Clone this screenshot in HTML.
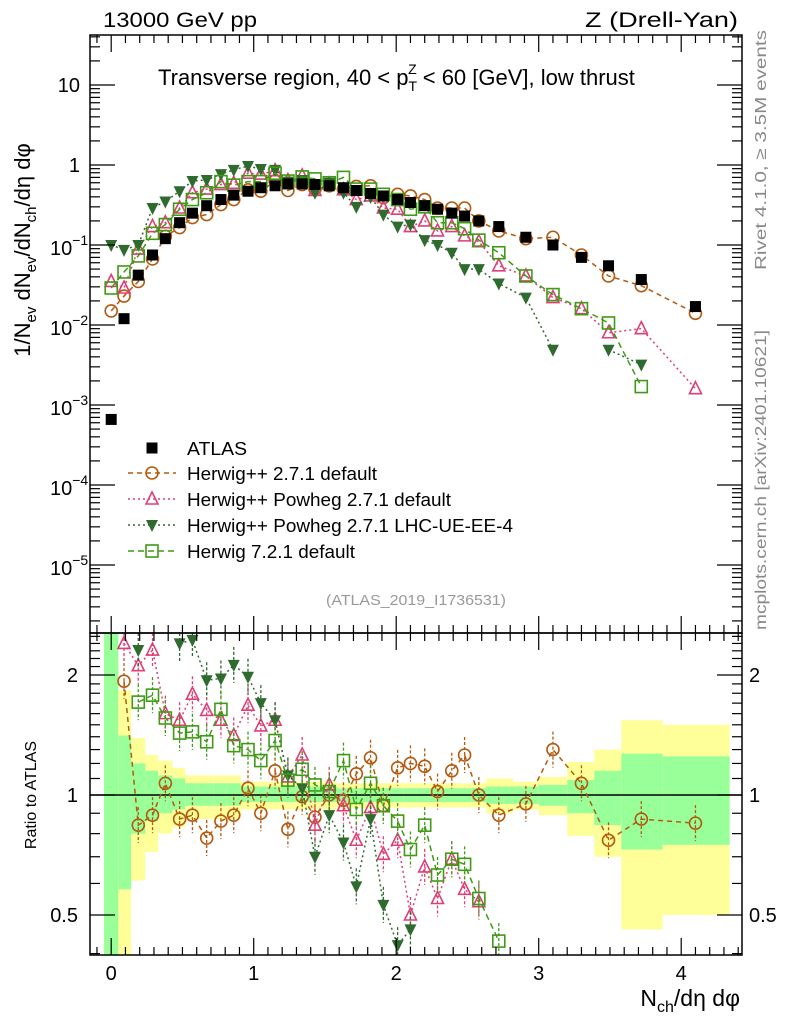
<!DOCTYPE html>
<html><head><meta charset="utf-8"><style>
html,body{margin:0;padding:0;background:#fff;}
svg{display:block;font-family:"Liberation Sans",sans-serif;}
</style></head><body>
<svg id="chart" width="786" height="1024" viewBox="0 0 786 1024" xmlns="http://www.w3.org/2000/svg">
<g id="bands"></g>
<g id="marks"></g>
<g id="axes"></g>
<text x="103" y="27" font-size="21" textLength="154" lengthAdjust="spacingAndGlyphs">13000 GeV pp</text>
<text x="585" y="27" font-size="21" textLength="153" lengthAdjust="spacingAndGlyphs">Z (Drell-Yan)</text>
<text x="158" y="85" font-size="22">Transverse region, 40 &lt; p<tspan font-size="14" dy="6">T</tspan><tspan font-size="14" dx="-9" dy="-17">Z</tspan><tspan dy="11"> &lt; 60 [GeV], low thrust</tspan></text>
<text transform="translate(30,250) rotate(-90)" font-size="22" text-anchor="middle">1/N<tspan font-size="15" dy="6">ev</tspan><tspan dy="-6"> dN</tspan><tspan font-size="15" dy="6">ev</tspan><tspan dy="-6">/dN</tspan><tspan font-size="15" dy="6">ch</tspan><tspan dy="-6">/dη dφ</tspan></text>
<text transform="translate(766,270) rotate(-90)" font-size="16" fill="#888" textLength="240" lengthAdjust="spacingAndGlyphs">Rivet 4.1.0, ≥ 3.5M events</text>
<text transform="translate(766,630) rotate(-90)" font-size="16" fill="#888" textLength="300" lengthAdjust="spacingAndGlyphs">mcplots.cern.ch [arXiv:2401.10621]</text>
<text x="326" y="605" font-size="15" fill="#999" textLength="180" lengthAdjust="spacingAndGlyphs">(ATLAS_2019_I1736531)</text>
<text transform="translate(36,795) rotate(-90)" font-size="16" text-anchor="middle">Ratio to ATLAS</text>
<text x="740" y="1006" font-size="23" text-anchor="end">N<tspan font-size="16" dy="6">ch</tspan><tspan dy="-6">/dη dφ</tspan></text>
<g id="legend"></g>
</svg>
<script>
// ---- data ----
const xVals = [0,0.09,0.19,0.29,0.38,0.48,0.57,0.67,0.77,0.86,0.96,1.05,1.15,1.24,1.34,1.43,1.53,1.63,1.72,1.82,1.91,2.01,2.10,2.20,2.29,2.39,2.48,2.58,2.72,2.91,3.10,3.30,3.49,3.72,4.10];
const binLo = [-0.05,0.05,0.14,0.24,0.33,0.43,0.52,0.62,0.72,0.81,0.91,1.0,1.1,1.19,1.29,1.38,1.48,1.58,1.67,1.77,1.86,1.96,2.05,2.15,2.24,2.34,2.43,2.53,2.63,2.82,3.0,3.2,3.39,3.58,3.87];
const binHi = [0.05,0.14,0.24,0.33,0.43,0.52,0.62,0.72,0.81,0.91,1.0,1.1,1.19,1.29,1.38,1.48,1.58,1.67,1.77,1.86,1.96,2.05,2.15,2.24,2.34,2.43,2.53,2.63,2.82,3.0,3.2,3.39,3.58,3.87,4.34];
const atlas = [6.6e-4,0.012,0.042,0.075,0.12,0.19,0.25,0.31,0.37,0.42,0.47,0.52,0.55,0.58,0.58,0.57,0.55,0.52,0.48,0.44,0.41,0.37,0.34,0.31,0.28,0.25,0.23,0.2,0.17,0.125,0.1,0.07,0.055,0.037,0.017];
const hwpp = [0.015,0.023,0.035,0.067,0.128,0.165,0.22,0.24,0.32,0.37,0.49,0.47,0.63,0.48,0.57,0.5,0.55,0.5,0.54,0.55,0.39,0.43,0.41,0.37,0.29,0.29,0.29,0.2,0.15,0.12,0.125,0.075,0.041,0.031,0.014];
const powheg = [0.035,0.029,0.089,0.17,0.19,0.29,0.45,0.5,0.57,0.59,0.79,0.77,0.85,0.64,0.73,0.48,0.58,0.49,0.37,0.41,0.29,0.28,0.17,0.2,0.15,0.17,0.13,0.11,0.055,0.041,0.022,0.016,0.008,0.009,0.0016];
const powhegUE = [0.1,0.087,0.1,0.29,0.35,0.47,0.63,0.65,0.77,0.87,0.97,0.89,0.87,0.62,0.65,0.45,0.6,0.45,0.3,0.4,0.24,0.17,0.18,0.115,0.1,0.08,0.05,0.05,0.033,0.022,0.0049,null,0.0049,0.0032,null];
const hw7 = [0.029,0.046,0.073,0.14,0.18,0.28,0.37,0.45,0.62,0.56,0.62,0.62,0.79,0.63,0.71,0.67,0.6,0.7,0.5,0.5,0.43,0.37,0.28,0.3,0.19,0.19,0.16,0.115,0.08,0.041,0.024,0.016,0.0106,0.0017,null];
// ratio values
const rHwpp = [null,1.93,0.84,0.89,1.07,0.87,0.89,0.78,0.86,0.89,1.04,0.9,1.15,0.82,0.99,0.88,1.0,0.97,1.13,1.24,0.94,1.17,1.2,1.18,1.02,1.15,1.26,1.0,0.89,0.95,1.3,1.07,0.77,0.87,0.85];
const rPowheg = [null,2.4,2.11,2.31,1.6,1.54,1.79,1.63,1.54,1.41,1.68,1.49,1.54,1.11,1.26,0.84,1.06,0.94,0.77,0.93,0.71,0.77,0.5,0.66,0.55,0.69,0.58,0.54,null,null,null,null,null,null,null];
const rPowhegUE = [null,null,2.31,null,null,2.4,2.45,1.94,1.96,2.12,1.98,1.7,1.54,1.12,1.04,0.7,0.89,0.76,0.59,0.87,0.53,0.42,0.46,null,null,null,null,null,null,null,null,null,null,null,null];
const rHw7 = [null,null,1.71,1.78,1.56,1.43,1.44,1.36,1.64,1.33,1.3,1.22,1.37,1.09,1.16,1.06,1.02,1.22,0.92,1.07,0.94,0.86,0.73,0.84,0.63,0.69,0.67,0.55,0.43,null,null,null,null,null,null];
const greenLo = [0.3,0.58,0.8,0.86,0.9,0.92,0.94,0.94,0.94,0.94,0.96,0.96,0.96,0.96,0.96,0.96,0.96,0.96,0.96,0.96,0.96,0.96,0.96,0.96,0.96,0.96,0.96,0.96,0.95,0.95,0.94,0.9,0.84,0.73,0.75];
const greenHi = [3,1.41,1.2,1.15,1.12,1.1,1.07,1.07,1.07,1.07,1.05,1.05,1.05,1.05,1.05,1.05,1.05,1.04,1.04,1.04,1.04,1.04,1.04,1.04,1.04,1.04,1.04,1.04,1.05,1.05,1.06,1.09,1.15,1.27,1.25];
const yellowLo = [0.3,0.3,0.61,0.72,0.8,0.83,0.87,0.87,0.87,0.87,0.92,0.92,0.92,0.92,0.92,0.92,0.92,0.93,0.93,0.93,0.93,0.93,0.93,0.93,0.93,0.93,0.93,0.93,0.9,0.92,0.89,0.79,0.7,0.46,0.5];
const yellowHi = [3,1.83,1.39,1.26,1.22,1.17,1.12,1.12,1.12,1.12,1.08,1.08,1.08,1.08,1.08,1.08,1.08,1.07,1.07,1.07,1.07,1.07,1.07,1.07,1.07,1.07,1.07,1.07,1.1,1.08,1.11,1.21,1.3,1.54,1.5];
const xTicks = [0,1,2,3,4];
const mainTickExp = [1,0,-1,-2,-3,-4,-5];
const ratioTicks = [2,1,0.5];

// ---- geometry ----
const L=90,R=742,T=35,MB=633,RB=955;
const X=v=>111.2+v*142.5;
const YM=v=>165-80*Math.log10(v);
const YR=v=>795-120*Math.log2(v);
const NS="http://www.w3.org/2000/svg";
function mk(tag,attrs,parent){const e=document.createElementNS(NS,tag);for(const k in attrs)e.setAttribute(k,attrs[k]);parent.appendChild(e);return e;}
const bands=document.getElementById('bands'),marks=document.getElementById('marks'),axes=document.getElementById('axes'),legend=document.getElementById('legend');

// bands
for(let i=0;i<xVals.length;i++){
  const x0=Math.max(X(binLo[i]),L+1),x1=X(binHi[i]);
  const yt=Math.max(YR(yellowHi[i]),MB),yb=Math.min(YR(yellowLo[i]),RB);
  const y=mk('rect',{x:x0,y:yt,width:x1-x0,height:yb-yt,fill:'#ffff99'},bands);
  
  
  const gt=Math.max(YR(greenHi[i]),MB),gb=Math.min(YR(greenLo[i]),RB);
  const g=mk('rect',{x:x0,y:gt,width:x1-x0,height:gb-gt,fill:'#99ff99'},bands);
  
  
}
const one=mk('line',{x1:L,x2:R,y1:YR(1),y2:YR(1),stroke:'#000','stroke-width':1.5},bands);



// markers
function marker(type,cx,cy,color,parent,size){
  const s=size||6;let e;
  if(type==='sq') e=mk('rect',{x:cx-s,y:cy-s,width:2*s,height:2*s,fill:'#000'},parent);
  else if(type==='circ') e=mk('circle',{cx:cx,cy:cy,r:s,fill:'none',stroke:color,'stroke-width':1.6},parent);
  else if(type==='tri') e=mk('path',{d:`M${cx},${cy-s-1}L${cx+s},${cy+s-1}L${cx-s},${cy+s-1}Z`,fill:'none',stroke:color,'stroke-width':1.6},parent);
  else if(type==='dtri') e=mk('path',{d:`M${cx-s},${cy-s+1}L${cx+s},${cy-s+1}L${cx},${cy+s+1}Z`,fill:color},parent);
  else e=mk('rect',{x:cx-s,y:cy-s,width:2*s,height:2*s,fill:'none',stroke:color,'stroke-width':1.6},parent);
  return e;
}
const series=[
 {name:'herwigpp-default',main:hwpp,ratio:rHwpp,color:'#b35a10',type:'circ',dash:'5,4'},
 {name:'herwigpp-powheg-default',main:powheg,ratio:rPowheg,color:'#dd3f76',type:'tri',dash:'2,3'},
 {name:'herwigpp-powheg-lhc-ue',main:powhegUE,ratio:rPowhegUE,color:'#2f6b2f',type:'dtri',dash:'2,3'},
 {name:'herwig7-default',main:hw7,ratio:rHw7,color:'#3f9a16',type:'box',dash:'6,4'}
];
function drawSeries(vals,yf,top,bot,s,panel){
  const g=mk('g',{},marks);
  
  
  let pts=[];
  const flush=()=>{if(pts.length>1)mk('polyline',{points:pts.join(' '),fill:'none',stroke:s.color,'stroke-width':1.5,'stroke-dasharray':s.dash},g);pts=[];};
  for(let i=0;i<xVals.length;i++){
    const v=vals[i];if(v==null){flush();continue;}
    const y=yf(v);
    if(y<top-40||y>bot+40){flush();continue;}
    pts.push(X(xVals[i])+','+y);
  }
  flush();
  for(let i=0;i<xVals.length;i++){
    const v=vals[i];if(v==null)continue;const y=yf(v);
    if(y<top||y>bot)continue;
    if(panel==='ratio'){
      const e=mk('line',{x1:X(xVals[i]),x2:X(xVals[i]),y1:Math.max(y-18,top),y2:Math.min(y+18,bot),stroke:s.color,'stroke-width':1.3,'stroke-dasharray':'3,2'},g);
      
      
    }
    const m=marker(s.type,X(xVals[i]),y,s.color,g);
    
    
  }
}
series.forEach(s=>drawSeries(s.main,YM,T,MB,s,'main'));
series.forEach(s=>drawSeries(s.ratio,YR,MB,RB,s,'ratio'));
// mask overflow of ratio lines above/below panels
const m1=mk('rect',{x:L,y:RB+1,width:R-L+2,height:30,fill:'#fff'},marks);


const ag=mk('g',{},marks);


for(let i=0;i<xVals.length;i++){
  const m=marker('sq',X(xVals[i]),YM(atlas[i]),'#000',ag,5.5);
  
  
}

// axes frames
[[T,MB],[MB,RB]].forEach(([a,b])=>{
  const f=mk('rect',{x:L,y:a,width:R-L,height:b-a,fill:'none',stroke:'#000','stroke-width':1.5},axes);
  
  
});
// x ticks
for(let v=-0.1;v<=4.45;v+=0.1){
  const vv=Math.round(v*10)/10;const x=X(vv);if(x<L||x>R)continue;
  const major=Math.abs(vv-Math.round(vv))<1e-6;const len=major?17:8;
  [[T,1],[MB,-1],[MB,1],[RB,-1]].forEach(([y,d])=>mk('line',{x1:x,x2:x,y1:y,y2:y+d*len,stroke:'#000','stroke-width':1.2},axes));
}
xTicks.forEach(v=>{
  const t=mk('text',{x:X(v),y:980,'font-size':20,'text-anchor':'middle'},axes);t.textContent=v;
  
  
});
// main y ticks
for(let e=-6;e<=1;e++){
  for(let k=1;k<10;k++){
    const y=YM(k*Math.pow(10,e));if(y<T||y>MB)continue;
    const len=k===1?25:10;
    mk('line',{x1:L,x2:L+len,y1:y,y2:y,stroke:'#000','stroke-width':1.2},axes);
    mk('line',{x1:R,x2:R-len,y1:y,y2:y,stroke:'#000','stroke-width':1.2},axes);
  }
}
mainTickExp.forEach(e=>{
  const y=YM(Math.pow(10,e));
  const t=mk('text',{'font-size':20},axes);
  
  
  if(e>=0){t.setAttribute('x',80);t.setAttribute('y',y+7);t.setAttribute('text-anchor','end');t.textContent=(e===1?'10':'1');}
  else{
    t.setAttribute('x',50);t.setAttribute('y',y+10);
    const a=document.createElementNS(NS,'tspan');a.textContent='10';t.appendChild(a);
    const s=document.createElementNS(NS,'tspan');s.setAttribute('font-size','14');s.setAttribute('dy','-10');s.textContent='−'+(-e);t.appendChild(s);
  }
});
// ratio y ticks
for(let v=0.4;v<=2.55;v+=0.1){
  const vv=Math.round(v*10)/10;const y=YR(vv);if(y<MB||y>RB)continue;
  const len=(vv===0.5||vv===1||vv===2)?25:10;
  mk('line',{x1:L,x2:L+len,y1:y,y2:y,stroke:'#000','stroke-width':1.2},axes);
  mk('line',{x1:R,x2:R-len,y1:y,y2:y,stroke:'#000','stroke-width':1.2},axes);
}
ratioTicks.forEach(v=>{
  const y=YR(v);
  const t=mk('text',{x:78,y:y+7,'font-size':20,'text-anchor':'end'},axes);t.textContent=v;
  
  
  const t2=mk('text',{x:749,y:y+7,'font-size':20},axes);t2.textContent=v;
  
  
});

// legend
const legItems=[
 {label:'ATLAS',type:'sq',color:'#000',dash:null,w:60},
 {label:'Herwig++ 2.7.1 default',type:'circ',color:series[0].color,dash:'5,4',w:190},
 {label:'Herwig++ Powheg 2.7.1 default',type:'tri',color:series[1].color,dash:'2,3',w:264},
 {label:'Herwig++ Powheg 2.7.1 LHC-UE-EE-4',type:'dtri',color:series[2].color,dash:'2,3',w:326},
 {label:'Herwig 7.2.1 default',type:'box',color:series[3].color,dash:'6,4',w:168}
];
const legY=[448,473,499,525,551];
legItems.forEach((it,i)=>{
  const g=mk('g',{},legend);
  
  
  const y=legY[i];
  if(it.dash)mk('line',{x1:128,x2:176,y1:y,y2:y,stroke:it.color,'stroke-width':1.5,'stroke-dasharray':it.dash},g);
  marker(it.type,152,y,it.color,g,it.type==='sq'?5.5:6);
  const t=mk('text',{x:187,y:y+7,'font-size':18.5,textLength:it.w,lengthAdjust:'spacingAndGlyphs'},g);t.textContent=it.label;
});
</script>
</body></html>
